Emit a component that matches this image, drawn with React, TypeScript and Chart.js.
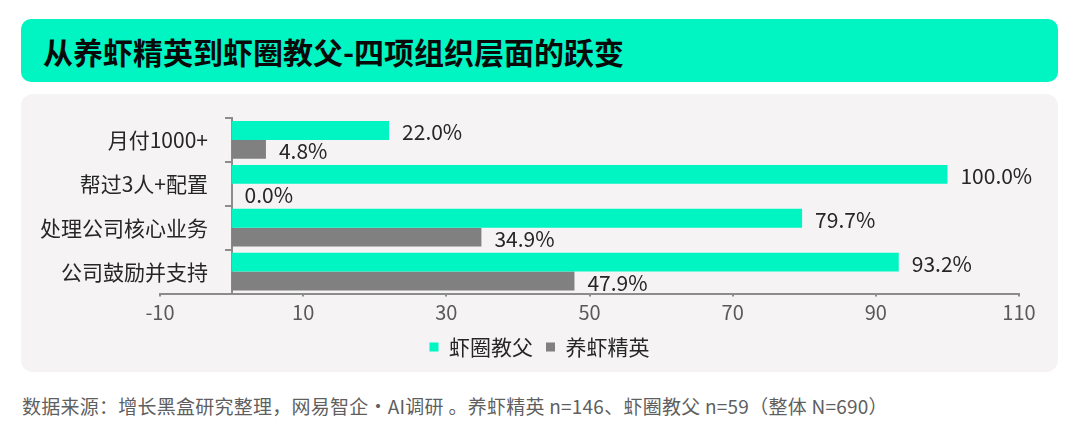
import React, { useEffect, useRef } from "react";
import { Chart, registerables } from "chart.js";

Chart.register(...registerables);

// ---- data ----
const categories = ["月付1000+", "帮过3人+配置", "处理公司核心业务", "公司鼓励并支持"];
const godfatherValues = [22.0, 100.0, 79.7, 93.2];
const eliteValues = [4.8, 0.0, 34.9, 47.9];
const seriesNames = ["虾圈教父", "养虾精英"];
const xMin = -10;
const xMax = 110;
const xStep = 20;

const titleText = "从养虾精英到虾圈教父-四项组织层面的跃变";
const footerText =
  "数据来源：增长黑盒研究整理，网易智企·AI调研 。养虾精英 n=146、虾圈教父 n=59（整体 N=690）";

// ---- styles ----
const TEAL = "#00F5C3";
const GRAY = "#808080";
const AXIS = "#8c8c8c";
const FONT = "'Noto Sans CJK SC', 'Noto Sans', sans-serif";
const LABEL_ANCHOR = -3.3; // x-value where category labels are right-aligned

const valueLabels = {
  id: "valueLabels",
  afterDatasetsDraw(chart: any) {
    const ctx = chart.ctx;
    ctx.save();
    ctx.font = `21px ${FONT}`;
    ctx.fillStyle = "#262626";
    ctx.textAlign = "left";
    ctx.textBaseline = "middle";
    chart.data.datasets.forEach((ds: any, i: number) => {
      const meta = chart.getDatasetMeta(i);
      meta.data.forEach((el: any, j: number) => {
        const v = ds.data[j] as number;
        ctx.fillText(v.toFixed(1) + "%", el.x + 13, el.y + 2);
      });
    });
    ctx.restore();
  },
};

export default function App() {
  const ref = useRef<HTMLCanvasElement>(null);

  useEffect(() => {
    const chart = new Chart(ref.current as HTMLCanvasElement, {
      type: "bar",
      data: {
        labels: categories,
        datasets: [
          {
            label: seriesNames[0],
            data: godfatherValues,
            backgroundColor: TEAL,
            borderWidth: 0,
            categoryPercentage: 0.86,
            barPercentage: 1,
          },
          {
            label: seriesNames[1],
            data: eliteValues,
            backgroundColor: GRAY,
            borderWidth: 0,
            categoryPercentage: 0.86,
            barPercentage: 1,
          },
        ],
      },
      options: {
        indexAxis: "y",
        responsive: true,
        maintainAspectRatio: false,
        animation: false,
        layout: { padding: { left: 39, right: 39, top: 24, bottom: 4.5 } },
        scales: {
          x: {
            type: "linear",
            position: "bottom",
            min: xMin,
            max: xMax,
            ticks: {
              stepSize: xStep,
              color: "#595959",
              font: { family: FONT, size: 20 },
              padding: 4,
            },
            grid: {
              display: true,
              drawOnChartArea: false,
              drawTicks: true,
              tickLength: 3,
              color: AXIS,
              lineWidth: 2,
            },
            border: { display: true, color: AXIS, width: 2 },
            afterFit: (s: any) => {
              s.height = 30;
              s.paddingLeft = 139;
            },
          },
          y: {
            type: "category",
            position: { x: 0 },
            offset: true,
            ticks: { display: false },
            grid: {
              display: true,
              offset: true,
              drawOnChartArea: false,
              tickLength: 6,
              color: AXIS,
              lineWidth: 2,
            },
            border: { display: true, color: AXIS, width: 2 },
            afterFit: (s: any) => {
              s.width = 0;
            },
          },
          yLabels: {
            type: "category",
            axis: "y",
            position: { x: LABEL_ANCHOR },
            labels: categories,
            offset: true,
            grid: { display: false },
            border: { display: false },
            ticks: {
              color: "#262626",
              font: { family: FONT, size: 21 },
            },
            afterFit: (s: any) => {
              s.width = 0;
            },
          },
        },
        plugins: {
          legend: {
            position: "bottom",
            labels: {
              boxWidth: 9,
              boxHeight: 9,
              padding: 13,
              color: "#262626",
              font: { family: FONT, size: 21 },
            },
          },
          tooltip: { enabled: false },
        },
      } as any,
      plugins: [valueLabels],
    });
    return () => chart.destroy();
  }, []);

  return (
    <div
      style={{
        position: "fixed",
        left: 0,
        top: 0,
        width: 1080,
        height: 438,
        background: "#ffffff",
        fontFamily: FONT,
        overflow: "hidden",
      }}
    >
      <div
        style={{
          position: "absolute",
          left: 21,
          top: 19,
          width: 1037,
          height: 63,
          borderRadius: 10,
          background: TEAL,
          boxSizing: "border-box",
          paddingLeft: 22,
          display: "flex",
          alignItems: "center",
        }}
      >
        <span
          style={{
            fontSize: 30,
            fontWeight: 700,
            color: "#0a0a0a",
            lineHeight: 1,
            position: "relative",
            top: 0,
            whiteSpace: "nowrap",
          }}
        >
          {titleText}
        </span>
      </div>
      <div
        style={{
          position: "absolute",
          left: 21,
          top: 94,
          width: 1037,
          height: 278,
          borderRadius: 12,
          background: "#F5F3F4",
        }}
      />
      <div style={{ position: "absolute", left: 21, top: 94, width: 1037, height: 278 }}>
        <canvas ref={ref} />
      </div>
      <div
        style={{
          position: "absolute",
          left: 22,
          top: 393,
          fontSize: 19,
          letterSpacing: 0.25,
          color: "#5f5f5f",
          lineHeight: "26px",
          whiteSpace: "nowrap",
        }}
      >
        {footerText}
      </div>
    </div>
  );
}
